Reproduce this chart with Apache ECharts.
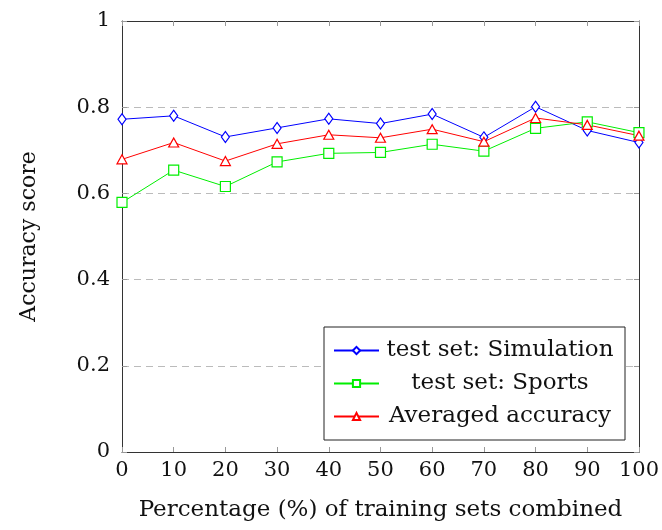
<!DOCTYPE html>
<html>
<head>
<meta charset="utf-8">
<script src="https://cdn.jsdelivr.net/npm/echarts@6/dist/echarts.min.js"></script>
<style>
  html, body { margin: 0; padding: 0; background: #fff; }
  #main { width: 662px; height: 530px; }
</style>
</head>
<body>
<div id="main"></div>
<script>
// percentage of training sets combined
var percents = [0, 10, 20, 30, 40, 50, 60, 70, 80, 90, 100];

var simulation = [0.772, 0.780, 0.731, 0.752, 0.773, 0.762, 0.784, 0.730, 0.801, 0.746, 0.718];
var sports     = [0.579, 0.654, 0.616, 0.673, 0.693, 0.695, 0.714, 0.698, 0.751, 0.766, 0.741];
var averaged   = [0.679, 0.718, 0.675, 0.715, 0.736, 0.729, 0.749, 0.720, 0.775, 0.759, 0.734];

var font = 'DejaVu Serif';

var toPairs = function (ys) {
  var res = [];
  for (var i = 0; i < percents.length; i++) {
    res.push([percents[i], ys[i]]);
  }
  return res;
};

var makeSeries = function (name, ys, color, symbol, size) {
  return {
    name: name,
    type: 'line',
    data: toPairs(ys),
    symbol: symbol,
    symbolSize: size,
    showAllSymbol: true,
    lineStyle: { color: color, width: 1 },
    itemStyle: { color: '#fff', borderColor: color, borderWidth: 1.2 },
    emphasis: { disabled: true },
    animation: false
  };
};

var chart = echarts.init(document.getElementById('main'));

var tickStyle = { show: true, inside: true, length: 5, lineStyle: { color: '#999' } };
var lineStyle = { show: true, onZero: false, lineStyle: { color: '#333', width: 1 } };

chart.setOption({
  animation: false,
  grid: { left: 122, right: 21, top: 21, bottom: 78 },
  legend: {
    orient: 'vertical',
    left: 324,
    top: 327,
    padding: [11, 9, 11, 9],
    itemGap: 8,
    itemWidth: 45,
    itemHeight: 9,
    backgroundColor: '#fff',
    borderColor: '#222',
    borderWidth: 1,
    borderRadius: 0,
    formatter: '{c|{name}}',
    textStyle: {
      fontFamily: font,
      fontSize: 23,
      color: '#111',
      height: 25,
      lineHeight: 25,
      rich: {
        c: { width: 232, height: 25, align: 'center', fontFamily: font, fontSize: 23, lineHeight: 25 }
      }
    },
    data: ['test set: Simulation', 'test set: Sports', 'Averaged accuracy']
  },
  xAxis: [
    {
      type: 'value',
      min: 0,
      max: 100,
      interval: 10,
      name: 'Percentage (%) of training sets combined',
      nameLocation: 'middle',
      nameGap: 47,
      nameTextStyle: { fontFamily: font, fontSize: 23, color: '#111' },
      axisLine: lineStyle,
      axisTick: tickStyle,
      axisLabel: { fontFamily: font, fontSize: 21, color: '#111', margin: 8 },
      splitLine: { show: false }
    },
    {
      type: 'value',
      position: 'top',
      min: 0,
      max: 100,
      interval: 10,
      axisLine: lineStyle,
      axisTick: tickStyle,
      axisLabel: { show: false },
      splitLine: { show: false }
    }
  ],
  yAxis: [
    {
      type: 'value',
      min: 0,
      max: 1,
      interval: 0.2,
      name: 'Accuracy score',
      nameLocation: 'middle',
      nameGap: 82,
      nameTextStyle: { fontFamily: font, fontSize: 22, color: '#111' },
      axisLine: lineStyle,
      axisTick: tickStyle,
      axisLabel: { fontFamily: font, fontSize: 21, color: '#111', margin: 12 },
      splitLine: { show: true, lineStyle: { color: '#bbb', type: [7, 5], width: 1 } }
    },
    {
      type: 'value',
      position: 'right',
      min: 0,
      max: 1,
      interval: 0.2,
      axisLine: lineStyle,
      axisTick: tickStyle,
      axisLabel: { show: false },
      splitLine: { show: false }
    }
  ],
  series: [
    makeSeries('test set: Simulation', simulation, '#0000ff', 'diamond', [8, 11]),
    makeSeries('test set: Sports', sports, '#00ee00', 'rect', 10),
    makeSeries('Averaged accuracy', averaged, '#ff0000', 'triangle', [10, 9])
  ]
});
</script>
</body>
</html>
